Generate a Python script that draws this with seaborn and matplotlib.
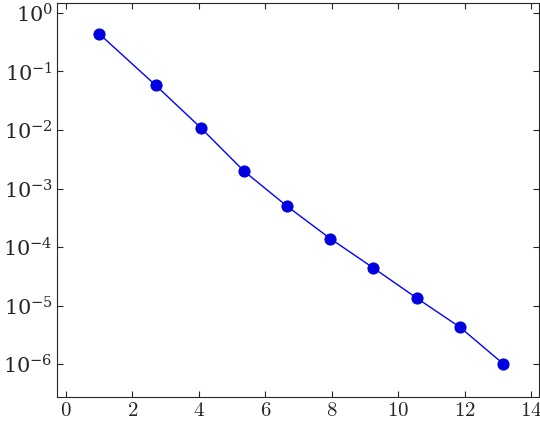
import matplotlib
matplotlib.use("Agg")
import matplotlib.pyplot as plt
import matplotlib.ticker as mticker
import seaborn as sns
import pandas as pd

x_vals = [1.0, 2.7, 4.05, 5.35, 6.65, 7.95, 9.25, 10.55, 11.85, 13.15]
y_vals = [0.44, 0.058, 0.011, 0.002, 5.0e-4, 1.4e-4, 4.4e-5, 1.35e-5, 4.3e-6, 1.02e-6]
x_ticks = [0, 2, 4, 6, 8, 10, 12, 14]

sns.set_style("ticks")
plt.rcParams["mathtext.fontset"] = "cm"
plt.rcParams["font.family"] = ["DejaVu Serif"]

df = pd.DataFrame({"x": x_vals, "y": y_vals})
fig = plt.figure(figsize=(5.4, 4.25), dpi=100)
ax = fig.add_axes([57/540, 28/425, 482/540, 394/425])
sns.lineplot(data=df, x="x", y="y", ax=ax, color="#0000ff", lw=1.0,
             marker="o", markersize=8, markerfacecolor="#0000e0",
             markeredgecolor="#0000e0")
ax.set_yscale("log")
ax.set_xlim(-0.27, 14.23)
ax.set_ylim(10**-6.56, 10**0.17)
ax.set_xticks(x_ticks)
ax.set_xticklabels([r"$%d$" % v for v in x_ticks], fontsize=15)
ax.yaxis.set_major_locator(mticker.LogLocator(base=10, numticks=20))
ax.yaxis.set_minor_locator(mticker.NullLocator())
ax.set_xlabel("")
ax.set_ylabel("")
ax.tick_params(direction="in", top=True, right=True, labelsize=15, length=4, pad=3)
for s in ax.spines.values():
    s.set_linewidth(0.8)
fig.savefig("out.png", dpi=100)
